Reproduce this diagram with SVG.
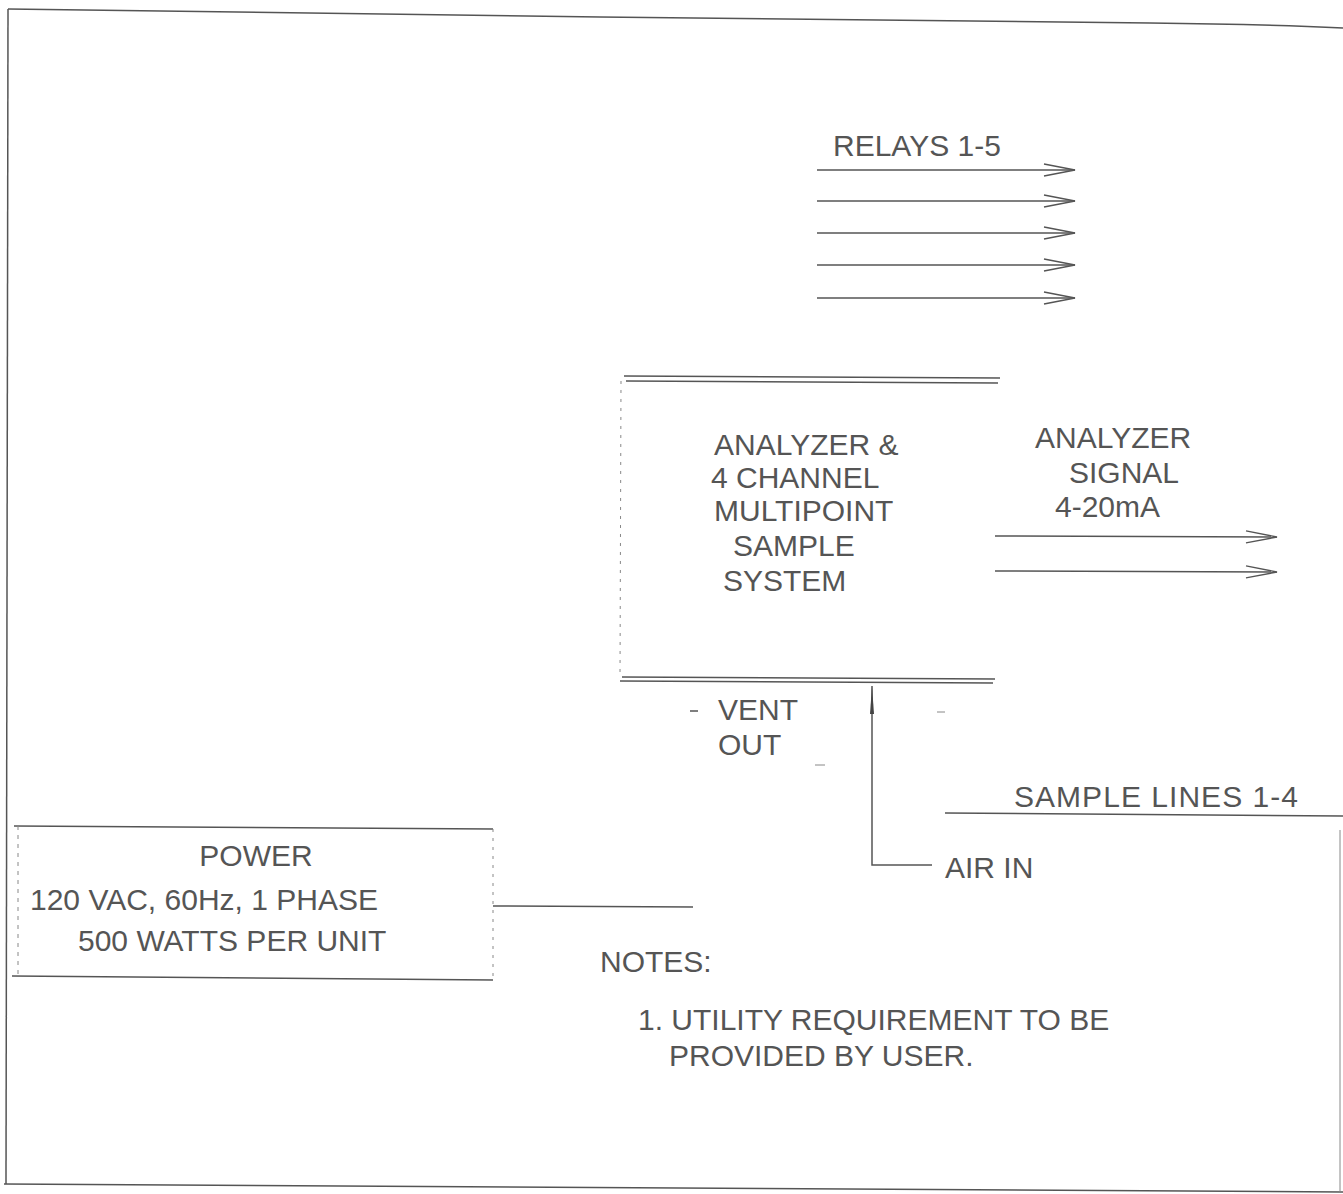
<svg xmlns="http://www.w3.org/2000/svg" width="1343" height="1194" viewBox="0 0 1343 1194">
<defs>
<style>
text{font-family:"Liberation Sans",Arial,sans-serif;font-size:30px;fill:#555}
.ln{stroke:#555;stroke-width:1.5;fill:none}
.fn{stroke:#888;stroke-width:1;fill:none}
.ch{stroke:#555;stroke-width:1.4;fill:none}
</style>
<marker id="open" markerWidth="34" markerHeight="16" refX="32" refY="8" markerUnits="userSpaceOnUse" orient="auto">
<path d="M1,2 L32,8 L1,14" class="ch"/>
</marker>
<marker id="solid" markerWidth="8" markerHeight="30" refX="4" refY="1" markerUnits="userSpaceOnUse" orient="0">
<path d="M4,1 L6,29 L2,29 Z" fill="#444"/>
</marker>
</defs>
<rect width="1343" height="1194" fill="#fff"/>
<g id="frame">
<path class="ln" d="M8,9 C200,12 400,13 600,17 C800,20 1000,22 1150,23 C1250,24 1300,26 1343,28"/>
<path class="ln" d="M8,9 L6,1184"/>
<path class="ln" d="M4,1184 C300,1188 700,1192 1343,1192"/>
<path class="fn" d="M1340,830 L1340,1192"/>
</g>
<g id="connectors">
<line class="ln" x1="817" y1="170" x2="1075" y2="170" marker-end="url(#open)"/>
<line class="ln" x1="817" y1="201" x2="1075" y2="201" marker-end="url(#open)"/>
<line class="ln" x1="817" y1="233" x2="1075" y2="233" marker-end="url(#open)"/>
<line class="ln" x1="817" y1="265" x2="1075" y2="265" marker-end="url(#open)"/>
<line class="ln" x1="817" y1="298" x2="1075" y2="298" marker-end="url(#open)"/>
<line class="ln" x1="995" y1="536" x2="1277" y2="537" marker-end="url(#open)"/>
<line class="ln" x1="995" y1="571" x2="1277" y2="572" marker-end="url(#open)"/>
<path class="ln" d="M932,865 L872,865 L872,686" marker-end="url(#solid)"/>
<line class="ln" x1="945" y1="813" x2="1343" y2="816"/>
<line class="ln" x1="493" y1="906" x2="693" y2="907"/>
</g>
<g id="relays-label"><text x="833" y="156" font-size="28">RELAYS 1-5</text></g>
<g id="analyzer">
<line class="ln" x1="624" y1="376" x2="1000" y2="378"/>
<line class="ln" x1="626" y1="381" x2="998" y2="383"/>
<line class="fn" x1="621" y1="381" x2="620" y2="678" stroke-dasharray="3 6"/>
<line class="ln" x1="622" y1="677" x2="995" y2="679"/>
<line class="ln" x1="620" y1="681" x2="993" y2="683"/>
<text x="714" y="455">ANALYZER &amp;</text>
<text x="711" y="488">4 CHANNEL</text>
<text x="714" y="521">MULTIPOINT</text>
<text x="733" y="556">SAMPLE</text>
<text x="723" y="591">SYSTEM</text>
</g>
<g id="signal-label">
<text x="1035" y="448">ANALYZER</text>
<text x="1069" y="483">SIGNAL</text>
<text x="1055" y="517">4-20mA</text>
</g>
<g id="vent">
<line class="ln" x1="690" y1="711" x2="698" y2="711"/>
<text x="718" y="720">VENT</text>
<text x="718" y="755">OUT</text>
<line class="fn" x1="815" y1="765" x2="825" y2="765"/>
<line class="fn" x1="937" y1="712" x2="945" y2="712"/>
</g>
<g id="air-in"><text x="945" y="878">AIR IN</text></g>
<g id="sample-lines"><text x="1014" y="807" font-size="31" textLength="284">SAMPLE LINES 1-4</text></g>
<g id="power">
<line class="ln" x1="14" y1="826" x2="493" y2="829"/>
<line class="ln" x1="12" y1="976" x2="493" y2="980"/>
<line class="fn" x1="18" y1="826" x2="18" y2="976" stroke-dasharray="4 5"/>
<line class="fn" x1="493" y1="829" x2="493" y2="980" stroke-dasharray="3 6"/>
<text x="256" y="866" text-anchor="middle">POWER</text>
<text x="30" y="910">120 VAC, 60Hz, 1 PHASE</text>
<text x="78" y="951">500 WATTS PER UNIT</text>
</g>
<g id="notes">
<text x="600" y="972">NOTES:</text>
<text x="638" y="1030">1. UTILITY REQUIREMENT TO BE</text>
<text x="669" y="1066">PROVIDED BY USER.</text>
</g>
</svg>
